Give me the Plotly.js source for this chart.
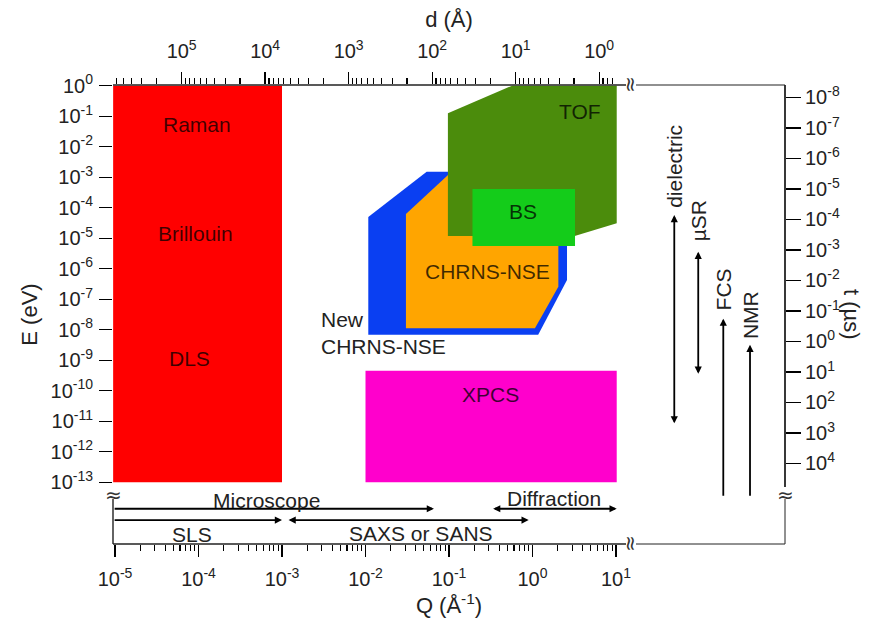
<!DOCTYPE html>
<html><head><meta charset="utf-8">
<script src="https://cdn.plot.ly/plotly-3.0.1.min.js"></script>
<style>html,body{margin:0;padding:0;background:#fff}#chart{width:879px;height:623px}</style>
</head><body><div id="chart"></div>
<script>
// ---------- data (Q in 1/Å, E in eV) ----------
const ramanQ = [9.5e-6, 1e-3, 1e-3, 9.5e-6];
const ramanE = [1e-13, 1e-13, 1, 1];
const xpcsQ = [0.01, 10.2, 10.2, 0.01];
const xpcsE = [1e-13, 1e-13, 4.5e-10, 4.5e-10];
const newNseQ = [0.0108, 0.0108, 0.054, 2.59, 2.59, 1.17];
const newNseE = [6.8e-9, 5.0e-5, 1.51e-3, 1.51e-3, 4.3e-7, 6.8e-9];
const nseQ = [0.0305, 0.0305, 0.0973, 2.04, 2.04, 1.07];
const nseE = [1.12e-8, 6.2e-5, 1.17e-3, 1.17e-3, 2.57e-7, 1.12e-8];
const tofQ = [0.097, 0.097, 0.57, 10.2, 10.2, 3.2];
const tofE = [1.17e-5, 0.126, 1, 1, 3.1e-5, 1.17e-5];
const bsQ = [0.191, 3.23, 3.23, 0.191];
const bsE = [5.5e-6, 5.5e-6, 4.07e-4, 4.07e-4];

const regionLabels = ['Raman', 'Brillouin', 'DLS', 'TOF', 'BS', 'CHRNS-NSE', 'New<br>CHRNS-NSE', 'XPCS'];
const regionLabelQ = [9.6e-5, 9.1e-5, 7.9e-5, 3.7, 0.77, 0.29, 2.77e-3, 0.31];
const regionLabelE = [0.055, 1.45e-5, 1.1e-9, 0.148, 7.6e-5, 8.0e-7, 7.8e-9, 7.8e-11];

// length-scale techniques (Q ranges, drawn in the axis-break band)
const qTechNames = ['Microscope', 'Diffraction', 'SLS', 'SAXS or SANS'];
const qTechMin = [9.5e-6, 0.324, 9.5e-6, 1.15e-3];
const qTechMax = [0.066, 10.2, 1e-3, 0.9];
const qTechBoth = [false, true, false, true];

// time-scale techniques (E ranges)
const tTechNames = ['dielectric', 'µSR', 'FCS', 'NMR'];
const tTechEmax = [5.75e-5, 3.6e-6, 2.3e-8, 3.2e-9];
const tTechEmin = [7.6e-12, 3.2e-10, 3.2e-14, 3.2e-14];
const tTechBoth = [true, true, false, false];

// tick labels
const qTicks = [1e-5, 1e-4, 1e-3, 1e-2, 1e-1, 1e0, 1e1];
const qTickText = ['10<sup>-5</sup>', '10<sup>-4</sup>', '10<sup>-3</sup>', '10<sup>-2</sup>', '10<sup>-1</sup>', '10<sup>0</sup>', '10<sup>1</sup>'];
const dTicks = [1e5, 1e4, 1e3, 1e2, 1e1, 1e0];
const dTickText = ['10<sup>5</sup>', '10<sup>4</sup>', '10<sup>3</sup>', '10<sup>2</sup>', '10<sup>1</sup>', '10<sup>0</sup>'];
const eTicks = [1e0, 1e-1, 1e-2, 1e-3, 1e-4, 1e-5, 1e-6, 1e-7, 1e-8, 1e-9, 1e-10, 1e-11, 1e-12, 1e-13];
const eTickText = ['10<sup>0</sup>', '10<sup>-1</sup>', '10<sup>-2</sup>', '10<sup>-3</sup>', '10<sup>-4</sup>', '10<sup>-5</sup>', '10<sup>-6</sup>', '10<sup>-7</sup>', '10<sup>-8</sup>', '10<sup>-9</sup>', '10<sup>-10</sup>', '10<sup>-11</sup>', '10<sup>-12</sup>', '10<sup>-13</sup>'];
const tTicks = [1e-8, 1e-7, 1e-6, 1e-5, 1e-4, 1e-3, 1e-2, 1e-1, 1e0, 1e1, 1e2, 1e3, 1e4];
const tTickText = ['10<sup>-8</sup>', '10<sup>-7</sup>', '10<sup>-6</sup>', '10<sup>-5</sup>', '10<sup>-4</sup>', '10<sup>-3</sup>', '10<sup>-2</sup>', '10<sup>-1</sup>', '10<sup>0</sup>', '10<sup>1</sup>', '10<sup>2</sup>', '10<sup>3</sup>', '10<sup>4</sup>'];

// ---------- build ----------
const FONT = 'Liberation Sans, Arial, Helvetica, sans-serif';
const H_EV_US = 4.135667e-9;   // Planck constant, eV·µs  (t = h/E)
const TWO_PI = 2 * Math.PI;    // d = 2π/Q
const L = Math.log10;

function minorList(lo, hi) {
  const out = [];
  for (let k = -8; k <= 8; k++) for (let m = 2; m <= 9; m++) {
    const v = m * Math.pow(10, k);
    if (v >= lo && v <= hi) out.push(v);
  }
  return out;
}

const qRange = [-5.024, 3.024];
const eRange = [-15.026, 0.023];

function poly(q, e, color) {
  return {type: 'scatter', mode: 'lines', x: q, y: e, fill: 'toself', fillcolor: color,
          line: {width: 0, color: color}, hoverinfo: 'skip', showlegend: false};
}
const traces = [
  poly(ramanQ, ramanE, '#ff0000'),
  poly(xpcsQ, xpcsE, '#ff00cc'),
  poly(newNseQ, newNseE, '#0a3ff2'),
  poly(nseQ, nseE, '#ffa500'),
  poly(tofQ, tofE, '#4b8c0c'),
  poly(bsQ, bsE, '#14cc1a'),
  // empty traces that register the secondary (d and t) axes
  {type: 'scatter', mode: 'none', x: [], y: [], xaxis: 'x2', yaxis: 'y', showlegend: false, hoverinfo: 'skip'},
  {type: 'scatter', mode: 'none', x: [], y: [], xaxis: 'x', yaxis: 'y2', showlegend: false, hoverinfo: 'skip'},
];

const ann = [];
regionLabels.forEach((t, i) => {
  const left = t.indexOf('<br>') >= 0;
  ann.push({xref: 'x', yref: 'y', x: L(regionLabelQ[i]), y: L(regionLabelE[i]), text: t, showarrow: false,
    xanchor: left ? 'left' : 'center', yanchor: 'middle', align: left ? 'left' : 'center',
    font: {family: FONT, size: 21, color: left ? '#222' : 'rgba(0,0,0,0.75)'}});
});

function arrow(x0, y0, x1, y1, both) {
  return {xref: 'x', yref: 'y', axref: 'x', ayref: 'y', x: x1, y: y1, ax: x0, ay: y0, text: '',
    showarrow: true, arrowhead: 2, arrowsize: 0.8, arrowwidth: 1.8, arrowcolor: '#000',
    arrowside: both ? 'end+start' : 'end', startarrowhead: 2, startarrowsize: 0.8,
    standoff: 0, startstandoff: 0};
}
// Q techniques: two rows inside the break band
const qRowE = [1.35e-14, 1.35e-14, 5.75e-15, 5.75e-15];
const qTextE = [2.6e-14, 3.0e-14, 2.0e-15, 2.1e-15];
const qTextQ = [6.5e-4, 1.79, 8.4e-5, 0.0462];
qTechNames.forEach((n, i) => {
  ann.push(arrow(L(qTechMin[i]), L(qRowE[i]), L(qTechMax[i]), L(qRowE[i]), qTechBoth[i]));
  ann.push({xref: 'x', yref: 'y', x: L(qTextQ[i]), y: L(qTextE[i]), text: n, showarrow: false,
    xanchor: 'center', yanchor: 'middle', font: {family: FONT, size: 21, color: '#222'}});
});
// time techniques: columns right of Q data
const tColX = [1.698, 1.985, 2.285, 2.605];
const tTextE = [10 ** -2.65, 10 ** -4.44, 10 ** -6.67, 10 ** -7.52];
tTechNames.forEach((n, i) => {
  ann.push(arrow(tColX[i], L(tTechEmin[i]), tColX[i], L(tTechEmax[i]), tTechBoth[i]));
  ann.push({xref: 'x', yref: 'y', x: tColX[i], y: L(tTextE[i]), text: n, textangle: -90, showarrow: false,
    xanchor: 'center', yanchor: 'middle', font: {family: FONT, size: 21, color: '#222'}});
});

// axis breaks
const brk = (x, y, ang, ys) => ({xref: 'paper', yref: 'paper', x: x, y: y, text: '≈', textangle: ang, showarrow: false,
  xanchor: 'center', yanchor: 'middle', yshift: ys,
  font: {family: 'DejaVu Sans, sans-serif', size: 20, color: '#333'}});
ann.push(brk(0.7708, 1, 90, 0), brk(0.7708, 0, 90, 0), brk(0, 0.111, 0, -2), brk(1, 0.111, 0, -2));

// right axis title
ann.push({xref: 'paper', yref: 'paper', x: 1.099, y: 0.5, text: 't (µs)', textangle: 90, showarrow: false,
  xanchor: 'center', yanchor: 'middle', font: {family: FONT, size: 22, color: '#222'}});

const lineShape = (x0, y0, x1, y1, w) => ({type: 'line', xref: 'paper', yref: 'paper', x0, y0, x1, y1,
  line: {color: '#222', width: w}, layer: 'above'});
const shapes = [
  lineShape(0, 1, 0.7634, 1, 1.6), lineShape(0.7783, 1, 1, 1, 1.2),
  lineShape(0, 0, 0.7634, 0, 1.4), lineShape(0.7783, 0, 1, 0, 1),
  lineShape(1, 0.1242, 1, 1, 1.8), lineShape(1, 0, 1, 0.098, 1),
  lineShape(0, 0, 0, 0.098, 1.4),
];

const tickFont = {family: FONT, size: 20, color: '#222'};
const common = {showgrid: false, zeroline: false, showline: false, ticks: 'outside', tickcolor: '#000',
  tickfont: tickFont, fixedrange: true, automargin: false, type: 'log', tickmode: 'array'};

const layout = {
  width: 879, height: 623,
  margin: {l: 113, r: 94, t: 85, b: 79},
  paper_bgcolor: '#fff', plot_bgcolor: '#fff',
  font: {family: FONT, color: '#222'},
  showlegend: false,
  xaxis: Object.assign({}, common, {range: qRange, tickvals: qTicks, ticktext: qTickText, ticklen: 12, tickwidth: 1.3,
    ticklabelstandoff: 5,
    minor: {tickmode: 'array', tickvals: minorList(1e-5, 10), ticks: 'outside', ticklen: 6, tickwidth: 1.1, tickcolor: '#000', showgrid: false},
    title: {text: 'Q (Å<sup>-1</sup>)', font: {family: FONT, size: 22, color: '#222'}, standoff: 2}}),
  xaxis2: Object.assign({}, common, {overlaying: 'x', side: 'top', anchor: 'y',
    range: [L(TWO_PI) - qRange[0], L(TWO_PI) - qRange[1]], tickvals: dTicks, ticktext: dTickText, ticklen: 12, tickwidth: 1.3,
    ticklabelstandoff: 6,
    minor: {tickmode: 'array', tickvals: minorList(0.65, 6.2e5), ticks: 'outside', ticklen: 6, tickwidth: 1.1, tickcolor: '#000', showgrid: false},
    title: {text: 'd (Å)', font: {family: FONT, size: 22, color: '#222'}, standoff: 2}}),
  yaxis: Object.assign({}, common, {range: eRange, tickvals: eTicks, ticktext: eTickText, ticklen: 13, tickwidth: 1.4,
    ticklabelstandoff: 2,
    title: {text: 'E (eV)', font: {family: FONT, size: 22, color: '#222'}, standoff: 6}}),
  yaxis2: Object.assign({}, common, {overlaying: 'y', side: 'right', anchor: 'x',
    range: [L(H_EV_US) - eRange[0], L(H_EV_US) - eRange[1]], tickvals: tTicks, ticktext: tTickText, ticklen: 15, tickwidth: 1.4}),
  annotations: ann,
  shapes: shapes,
};

Plotly.newPlot('chart', traces, layout, {displayModeBar: false, staticPlot: true});
</script>
</body></html>
